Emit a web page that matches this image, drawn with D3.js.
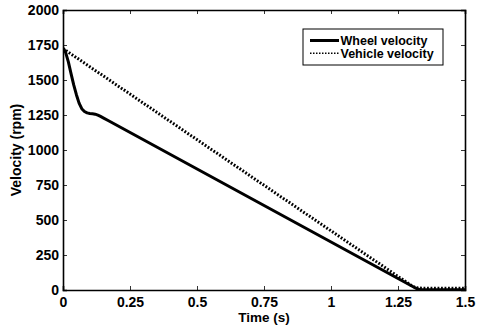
<!DOCTYPE html>
<html>
<head>
<meta charset="utf-8">
<script src="https://cdn.jsdelivr.net/npm/d3@7"></script>
<style>
  body { margin: 0; background: #fff; }
  text { font-family: "Liberation Sans", Arial, sans-serif; font-weight: bold; }
</style>
</head>
<body>
<script>
// Width and height
var w = 477;
var h = 325;
var margin = {top: 10, right: 12, bottom: 35, left: 63};

// wheel velocity (rpm) vs time (s)
var wheelTime = [0, 0.005, 0.01, 0.02, 0.03, 0.04, 0.05, 0.06, 0.07, 0.08, 0.09, 0.1, 0.11, 0.12, 0.13, 0.14, 0.15, 0.17, 1.31, 1.32, 1.33, 1.35, 1.5];
var wheelVel  = [1725, 1715, 1695, 1630, 1545, 1465, 1395, 1335, 1295, 1275, 1265, 1261, 1259, 1256, 1249, 1240, 1230, 1209, 20, 10, 4, 2, 2];

// vehicle velocity (rpm) vs time (s)
var vehicleTime = [0, 1.29, 1.30, 1.31, 1.32, 1.34, 1.5];
var vehicleVel  = [1725, 45, 32, 22, 16, 13, 12];

var xTicks = [0, 0.25, 0.5, 0.75, 1, 1.25, 1.5];
var yTicks = [0, 250, 500, 750, 1000, 1250, 1500, 1750, 2000];
var seriesNames = ['Wheel velocity', 'Vehicle velocity'];

var svg = d3.select('body')
    .append('svg')
    .attr('width', w)
    .attr('height', h);

var x = d3.scaleLinear()
    .domain([0, 1.5])
    .range([margin.left, w - margin.right]);

var y = d3.scaleLinear()
    .domain([0, 2000])
    .range([h - margin.bottom, margin.top]);

var wheel = wheelTime.map((t, i) => [t, wheelVel[i]]);
var vehicle = vehicleTime.map((t, i) => [t, vehicleVel[i]]);

var line = d3.line()
    .x(d => x(d[0]))
    .y(d => y(d[1]));

svg.append('clipPath').attr('id', 'clip')
    .append('rect')
    .attr('x', x(0)).attr('y', y(2000))
    .attr('width', x(1.5) - x(0)).attr('height', y(0) - y(2000));

var plot = svg.append('g').attr('clip-path', 'url(#clip)');

plot.append('path')
    .datum(vehicle)
    .attr('d', line)
    .attr('fill', 'none')
    .attr('stroke', '#000')
    .attr('stroke-width', 3)
    .attr('stroke-dasharray', '1.8,1.7');

plot.append('path')
    .datum(wheel)
    .attr('d', line)
    .attr('fill', 'none')
    .attr('stroke', '#000')
    .attr('stroke-width', 3)
    .attr('stroke-linejoin', 'round');

// axes, ticks inward on all four sides
var xAxis = d3.axisBottom(x).tickValues(xTicks).tickSize(-4).tickPadding(7).tickFormat(d => d);
var yAxis = d3.axisLeft(y).tickValues(yTicks).tickSize(-4).tickPadding(4).tickFormat(d => d);

svg.append('g')
    .attr('transform', 'translate(0,' + y(0) + ')')
    .call(xAxis);
svg.append('g')
    .attr('transform', 'translate(' + x(0) + ',0)')
    .call(yAxis);
svg.append('g')
    .attr('transform', 'translate(0,' + y(2000) + ')')
    .call(d3.axisTop(x).tickValues(xTicks).tickSize(-4).tickFormat(''));
svg.append('g')
    .attr('transform', 'translate(' + x(1.5) + ',0)')
    .call(d3.axisRight(y).tickValues(yTicks).tickSize(-4).tickFormat(''));

svg.selectAll('.domain').attr('stroke', '#000').attr('stroke-width', 1.6);
svg.selectAll('.tick line').attr('stroke', '#000').attr('stroke-width', 0.8);
svg.selectAll('.tick text')
    .attr('font-family', '"Liberation Sans", Arial, sans-serif')
    .attr('font-weight', 'bold')
    .attr('font-size', '14px')
    .attr('fill', '#000');

// axis labels
svg.append('text')
    .text('Time (s)')
    .attr('x', (x(0) + x(1.5)) / 2)
    .attr('y', 322)
    .attr('font-size', '13.5px')
    .attr('text-anchor', 'middle');

svg.append('text')
    .text('Velocity (rpm)')
    .attr('transform', 'translate(21,' + ((y(0) + y(2000)) / 2) + ') rotate(-90)')
    .attr('font-size', '14px')
    .attr('text-anchor', 'middle');

// legend
var legend = svg.append('g').attr('transform', 'translate(303,29)');
legend.append('rect')
    .attr('width', 140).attr('height', 36)
    .attr('fill', '#fff').attr('stroke', '#000').attr('stroke-width', 1);

var rows = legend.selectAll('g.row')
    .data(seriesNames)
    .enter()
    .append('g')
    .attr('transform', (d, i) => 'translate(0,' + (11.5 + i * 12.8) + ')');

rows.append('line')
    .attr('x1', 7).attr('x2', 36)
    .attr('stroke', '#000')
    .attr('stroke-width', (d, i) => i === 0 ? 3 : 1.4)
    .attr('stroke-dasharray', (d, i) => i === 0 ? null : '1.5,1.5');

rows.append('text')
    .text(d => d)
    .attr('x', 37.5)
    .attr('y', 4.5)
    .attr('font-size', '12.5px');
</script>
</body>
</html>
